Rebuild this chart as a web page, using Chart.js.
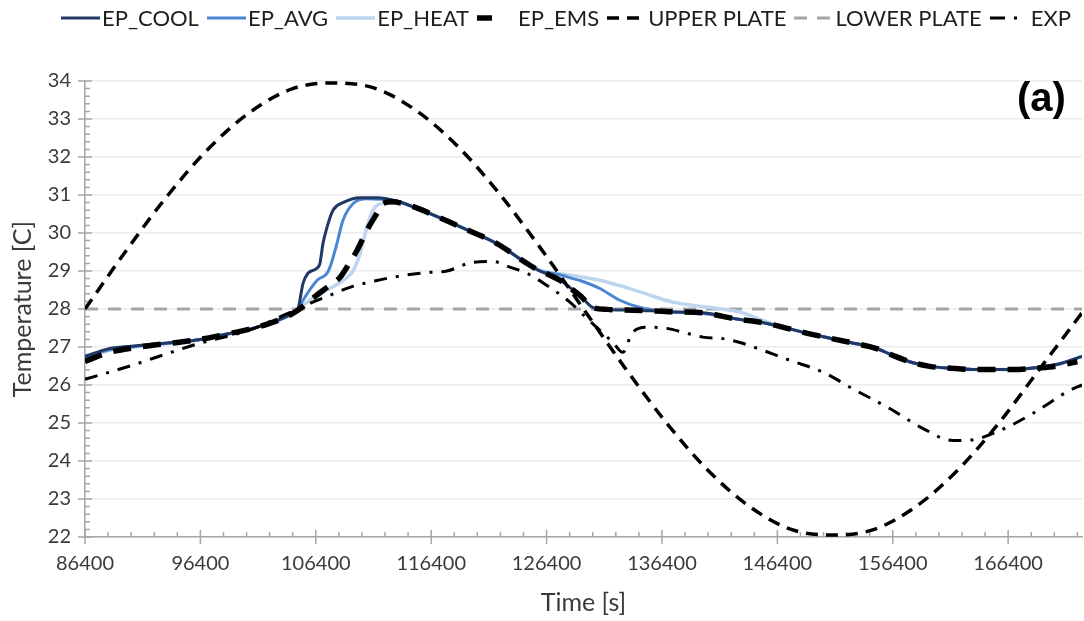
<!DOCTYPE html>
<html>
<head>
<meta charset="utf-8">
<title>Temperature</title>
<script src="https://cdn.jsdelivr.net/npm/chart.js@4.4.1/dist/chart.umd.min.js"></script>
<style>
  body { margin: 0; background: #fff; }
  #wrap { position: relative; width: 1084px; height: 621px; }
  #legend { position: absolute; left: 61px; top: 4px; display: flex; align-items: center;
            font-family: Lato, sans-serif; font-size: 22px; color: #1e1e1e; white-space: nowrap; }
  #legend .item { display: flex; align-items: center; margin-right: 8px; }
  #legend svg { margin-right: 2px; }
  #tag { position: absolute; left: 1017px; top: 75px; font: bold 40px "Liberation Sans", Arial, sans-serif; color: #000; }
</style>
</head>
<body>
<div id="wrap">
  <canvas id="tempChart" width="1084" height="621"></canvas>
  <div id="legend"></div>
  <div id="tag">(a)</div>
</div>
<script>
// x axis labels (s)
const xTicks = [86400, 96400, 106400, 116400, 126400, 136400, 146400, 156400, 166400];

// EP_COOL
const coolTime = [86400, 88400, 90400, 92400, 94400, 96400, 98400, 100400, 102400, 104200,
  104850, 105290, 105720, 106500, 106760, 107020, 107370, 107890, 108750, 110230,
  111700, 113690, 114560, 117160, 119760, 122100, 124700, 125820, 126690, 127810,
  128680, 129290, 130410, 131630, 134000, 137000, 140000, 142600, 145500, 149000,
  152700, 155000, 156400, 158000, 159600, 161500, 163300, 166800, 169000, 170600, 172800];
const coolTemp = [26.75, 26.95, 27.02, 27.08, 27.13, 27.2, 27.32, 27.45, 27.62, 27.85,
  28.0, 28.67, 28.94, 29.07, 29.2, 29.72, 30.15, 30.6, 30.8, 30.93,
  30.93, 30.82, 30.72, 30.4, 30.05, 29.72, 29.2, 29.0, 28.89, 28.71,
  28.5, 28.36, 28.04, 27.99, 27.97, 27.93, 27.9, 27.75, 27.62, 27.36,
  27.12, 26.96, 26.78, 26.6, 26.49, 26.44, 26.41, 26.41, 26.46, 26.54, 26.75];

// EP_AVG
const avgTime = [86400, 88400, 90400, 92400, 94400, 96400, 98400, 100400, 102400, 104200,
  104850, 105290, 106500, 107370, 107630, 108230, 108750, 109620, 110830, 113080,
  114560, 117160, 119760, 122100, 124700, 125820, 126690, 127810, 128680, 129290,
  131020, 132750, 134490, 137340, 140000, 142600, 145500, 149000, 152700, 155000,
  156400, 158000, 159600, 161500, 163300, 166800, 169000, 170600, 172800];
const avgTemp = [26.72, 26.92, 27.0, 27.07, 27.12, 27.2, 27.32, 27.45, 27.62, 27.85,
  28.0, 28.23, 28.75, 28.94, 29.1, 29.72, 30.33, 30.77, 30.9, 30.86,
  30.72, 30.4, 30.05, 29.72, 29.2, 29.0, 28.95, 28.88, 28.8, 28.75,
  28.54, 28.23, 28.04, 27.92, 27.88, 27.75, 27.62, 27.36, 27.12, 26.96,
  26.78, 26.6, 26.49, 26.44, 26.41, 26.41, 26.46, 26.54, 26.75];

// EP_HEAT
const heatTime = [86400, 88400, 90400, 92400, 94400, 96400, 98400, 100400, 102400, 104200,
  104850, 105890, 107370, 108750, 109620, 110230, 110830, 111350, 112220, 113690,
  114560, 117160, 119760, 122100, 124700, 125820, 128680, 131630, 134490, 137340,
  140290, 143150, 145500, 149000, 152700, 155000, 156400, 158000, 159600, 161500,
  163300, 166800, 169000, 170600, 172800];
const heatTemp = [26.7, 26.9, 26.99, 27.06, 27.12, 27.2, 27.32, 27.45, 27.62, 27.85,
  28.0, 28.23, 28.5, 28.75, 29.0, 29.45, 30.15, 30.6, 30.78, 30.8,
  30.72, 30.4, 30.05, 29.72, 29.2, 29.02, 28.88, 28.71, 28.45, 28.18,
  28.05, 27.92, 27.66, 27.36, 27.12, 26.96, 26.78, 26.6, 26.49, 26.44,
  26.41, 26.41, 26.46, 26.54, 26.75];

// EP_EMS
const emsTime = [86400, 88400, 90400, 92400, 94400, 96400, 98400, 100400, 102400, 104200,
  105000, 106000, 107370, 108490, 109300, 109970, 110830, 111700, 112220, 113000,
  114560, 117160, 119760, 122100, 124700, 125820, 126690, 127810, 128680, 129290,
  130410, 131630, 134000, 137000, 140000, 142600, 145500, 149000, 152700, 155000,
  156400, 158000, 159600, 161500, 163300, 166800, 169000, 170600, 172400];
const emsTemp = [26.62, 26.85, 26.97, 27.05, 27.12, 27.2, 27.32, 27.45, 27.62, 27.85,
  28.0, 28.25, 28.57, 28.83, 29.2, 29.54, 30.07, 30.52, 30.78, 30.82,
  30.72, 30.4, 30.05, 29.72, 29.2, 29.0, 28.89, 28.71, 28.5, 28.36,
  28.04, 27.99, 27.97, 27.93, 27.9, 27.75, 27.62, 27.36, 27.12, 26.96,
  26.78, 26.6, 26.49, 26.44, 26.41, 26.41, 26.45, 26.5, 26.62];

// plates (hourly for the upper one)
const upperTime = [86400, 90000, 93600, 97200, 100800, 104400, 108000, 111600, 115200, 118800,
  122400, 126000, 129600, 133200, 136800, 140400, 144000, 147600, 151200, 154800,
  158400, 162000, 165600, 169200, 172800];
const upperTemp = [28.0, 29.55, 31.0, 32.25, 33.2, 33.8, 33.95, 33.8, 33.2, 32.25,
  31.0, 29.55, 28.0, 26.45, 25.0, 23.75, 22.8, 22.2, 22.05, 22.2,
  22.8, 23.75, 25.0, 26.45, 27.9];
const lowerTime = [86400, 172800];
const lowerTemp = [28.0, 28.0];

// measured
const expTime = [86400, 90300, 93760, 96360, 100700, 103730, 105030, 106150, 107630, 109360,
  111700, 113950, 116030, 117760, 120020, 121750, 123220, 124700, 126430, 128420,
  129900, 131020, 132150, 133010, 133800, 135090, 136830, 138560, 139940, 141680,
  143150, 144620, 147480, 150340, 152940, 156140, 159000, 161600, 163070, 165680,
  168530, 171740, 172800];
const expTemp = [26.15, 26.5, 26.85, 27.1, 27.45, 27.85, 28.02, 28.18, 28.36, 28.57,
  28.75, 28.88, 28.96, 29.0, 29.23, 29.25, 29.1, 28.94, 28.62, 28.18,
  27.75, 27.44, 27.12, 26.86, 27.36, 27.52, 27.49, 27.36, 27.26, 27.22,
  27.12, 26.97, 26.65, 26.34, 25.9, 25.38, 24.86, 24.54, 24.55, 24.8,
  25.25, 25.86, 26.0];

const toPoints = (ts, vs) => ts.map((t, i) => ({ x: t, y: vs[i] }));

Chart.defaults.font.family = 'Lato, sans-serif';
Chart.defaults.color = '#3a3a3a';

// minor/major tick marks on both axes
const axisTicks = {
  id: 'axisTicks',
  beforeDatasetsDraw(chart) {
    const { ctx, chartArea } = chart;
    const xs = chart.scales.x, ys = chart.scales.y;
    ctx.save();
    ctx.strokeStyle = '#a6a6a6';
    ctx.lineWidth = 1.5;
    ctx.beginPath();
    for (let i = 0; i <= 60; i++) {
      const py = ys.getPixelForValue(22 + i * 0.2);
      const major = i % 5 === 0;
      ctx.moveTo(chartArea.left - (major ? 7 : 0), py);
      ctx.lineTo(chartArea.left + (major ? 7 : 5), py);
    }
    for (let i = 0; i * 2000 <= 86400; i++) {
      const px = xs.getPixelForValue(86400 + i * 2000);
      const major = i % 5 === 0;
      ctx.moveTo(px, chartArea.bottom + (major ? 7 : 0));
      ctx.lineTo(px, chartArea.bottom - (major ? 7 : 5));
    }
    ctx.stroke();
    ctx.restore();
  }
};

const ctx = document.getElementById('tempChart').getContext('2d');
const chart = new Chart(ctx, {
  type: 'line',
  data: {
    datasets: [
      { label: 'EP_COOL', data: toPoints(coolTime, coolTemp), borderColor: '#1f3864', borderWidth: 3, order: 3 },
      { label: 'EP_AVG', data: toPoints(avgTime, avgTemp), borderColor: '#4a86d4', borderWidth: 3, order: 4 },
      { label: 'EP_HEAT', data: toPoints(heatTime, heatTemp), borderColor: '#bdd5ef', borderWidth: 3.5, order: 5 },
      { label: 'EP_EMS', data: toPoints(emsTime, emsTemp), borderColor: '#000', borderWidth: 5.5, borderDash: [18, 12], order: 0, legendDash: [15, 30] },
      { label: 'UPPER PLATE', data: toPoints(upperTime, upperTemp), borderColor: '#000', borderWidth: 3.5, borderDash: [12, 8], order: 1 },
      { label: 'LOWER PLATE', data: toPoints(lowerTime, lowerTemp), borderColor: '#a6a6a6', borderWidth: 3, borderDash: [13, 10], order: 6 },
      { label: 'EXP', data: toPoints(expTime, expTemp), borderColor: '#000', borderWidth: 3, borderDash: [13, 9, 3, 9], order: 2, legendDash: [15, 9, 3, 20] }
    ]
  },
  options: {
    responsive: false,
    animation: false,
    layout: { padding: { top: 81, right: 2, left: 0, bottom: 0 } },
    elements: {
      point: { radius: 0 },
      line: { cubicInterpolationMode: 'monotone', fill: false }
    },
    plugins: {
      legend: { display: false },
      tooltip: { enabled: false }
    },
    scales: {
      x: {
        type: 'linear',
        min: 86400,
        max: 172800,
        afterBuildTicks: s => { s.ticks = xTicks.map(v => ({ value: v })); },
        grid: { display: false, drawTicks: false },
        border: { display: true, color: '#a6a6a6', width: 1.5 },
        ticks: { padding: 15, font: { size: 20 }, maxRotation: 0, autoSkip: false, callback: v => String(v) },
        title: { display: true, text: 'Time [s]', font: { size: 25 }, padding: { top: 0, bottom: 3 } },
        afterFit: s => { s.height = 84; s.paddingLeft = 0; s.paddingRight = 0; }
      },
      y: {
        min: 22,
        max: 34,
        ticks: { stepSize: 1, padding: 14, font: { size: 20 } },
        grid: { color: '#ececec', lineWidth: 1.5, drawTicks: false },
        border: { color: '#a6a6a6', width: 1.5 },
        title: { display: true, text: 'Temperature [C]', font: { size: 25 }, padding: { top: 8, bottom: 0 } },
        afterFit: s => { s.width = 85; s.paddingTop = 0; s.paddingBottom = 0; }
      }
    }
  },
  plugins: [axisTicks]
});

// legend in dataset order, with the same line styles
const legendBox = document.getElementById('legend');
chart.data.datasets.forEach(ds => {
  const item = document.createElement('div');
  item.className = 'item';
  const pattern = ds.legendDash || ds.borderDash;
  const dash = pattern ? pattern.join(' ') : 'none';
  item.innerHTML = '<svg width="39" height="14"><line x1="0" y1="7" x2="39" y2="7" stroke="' + ds.borderColor +
    '" stroke-width="' + ds.borderWidth + '" stroke-dasharray="' + dash + '"/></svg><span>' + ds.label + '</span>';
  legendBox.appendChild(item);
});
</script>
</body>
</html>
